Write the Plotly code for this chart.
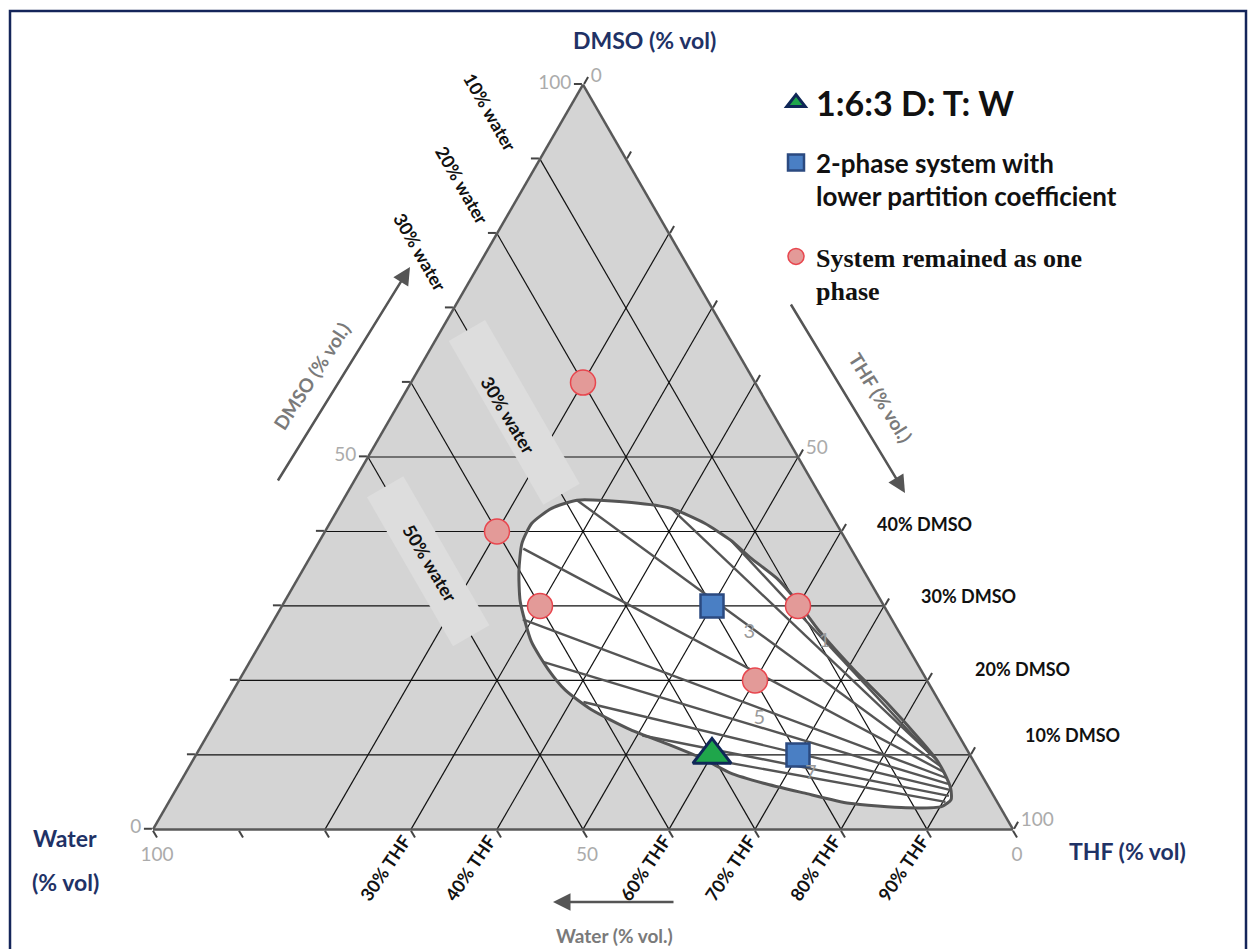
import plotly.graph_objects as go

FIG_W, FIG_H = 1249, 949

# ---------------- data (volume %, DMSO / THF / Water) ----------------
# 1:6:3 D:T:W composition
tri_dmso = [10]
tri_thf = [60]
tri_water = [30]

# 2-phase systems with lower partition coefficient
sq_dmso = [30, 10]
sq_thf = [50, 70]
sq_water = [20, 20]

# systems that remained as one phase
circ_dmso = [60, 40, 30, 30, 20]
circ_thf = [20, 20, 30, 60, 60]
circ_water = [20, 40, 40, 10, 20]

# binodal curve (closed loop)
bin_dmso = [44.2, 43.9, 43.1, 41.1, 38.8, 36.5, 33.7, 30.6, 26.6, 21.5, 17.1, 11.7, 9.3, 7.6,
            5.5, 4.0, 3.1, 2.9, 3.5, 4.9, 6.2, 7.6, 9.4, 11.3, 13.4, 16.1, 18.7, 21.5, 25.2,
            30.6, 34.7, 38.4, 41.1, 43.1, 44.2]
bin_thf = [27.2, 33.7, 38.7, 43.6, 47.8, 51.2, 55.7, 59.6, 64.2, 70.7, 76.7, 83.6, 86.5, 88.2,
           90.0, 90.8, 90.2, 86.1, 79.2, 73.2, 67.9, 63.3, 59.4, 54.5, 48.8, 42.9, 38.6, 35.2, 31.4,
           27.4, 25.2, 23.7, 23.5, 24.8, 27.2]
bin_water = [28.6, 22.4, 18.2, 15.3, 13.4, 12.3, 10.6, 9.8, 9.2, 7.8, 6.2, 4.7, 4.2, 4.2,
             4.5, 5.2, 6.7, 11.0, 17.3, 21.9, 25.9, 29.1, 31.2, 34.2, 37.8, 41.0, 42.7, 43.3, 43.4,
             42.0, 40.1, 37.9, 35.4, 32.1, 28.6]

# tie lines: water-rich end -> THF-rich end
tie_l_dmso = [38.8, 43.1, 44.2, 37.7, 28.2, 22.5, 17.1, 12.6, 9.6]
tie_l_thf = [47.8, 38.7, 27.2, 24.2, 28.9, 34.1, 41.5, 50.6, 59.0]
tie_l_water = [13.4, 18.2, 28.6, 38.1, 42.9, 43.4, 41.4, 36.8, 31.4]
tie_r_dmso = [10.2, 9.3, 8.5, 7.7, 6.9, 6.1, 5.3, 4.5, 3.7]
tie_r_thf = [85.2, 86.5, 87.3, 88.1, 88.8, 89.4, 90.0, 90.3, 90.3]
tie_r_water = [4.6, 4.2, 4.2, 4.2, 4.3, 4.5, 4.7, 5.2, 6.0]

tie_label_text = ["1", "3", "5", "7"]
tie_label_dmso = [25.2, 26.3, 14.8, 7.4]
tie_label_thf = [65.5, 56.2, 63.1, 72.8]
tie_label_water = [9.3, 17.5, 22.1, 19.8]

# drawn grid levels
grid_dmso_levels = [10, 20, 30, 40, 50]
grid_water_levels = [10, 20, 30, 40, 50]
grid_thf_levels = [20, 30, 40, 50, 60, 70, 80, 90]

# highlighted water bands
band_water = [30, 50]
band_dmso_start = [67, 46]
band_dmso_end = [45, 26]
band_text = ["30% water", "50% water"]

# axis ticks
tick_vals = [0, 10, 20, 30, 40, 50, 60, 70, 80, 90, 100]
tick_text = ["0", "", "", "", "", "50", "", "", "", "", "100"]

# text labels
dmso_line_labels = ["40% DMSO", "30% DMSO", "20% DMSO", "10% DMSO"]
water_line_labels = ["10% water", "20% water", "30% water"]
thf_line_labels = ["30% THF", "40% THF", "60% THF", "70% THF", "80% THF", "90% THF"]

legend_names = ["1:6:3 D: T: W",
                "2-phase system with<br>lower partition coefficient",
                "System remained as one<br>phase"]


def px(x):
    return x / FIG_W


def py(y):
    return 1 - y / FIG_H


fig = go.Figure()

# white interior of the binodal
fig.add_trace(go.Scatterternary(
    a=bin_dmso, b=bin_water, c=bin_thf, mode="lines", fill="toself",
    fillcolor="white", line=dict(width=0, color="white", shape="spline", smoothing=0.6),
    showlegend=False, hoverinfo="skip"))

# grid lines
ga, gb, gc = [], [], []
for d in grid_dmso_levels:
    ga += [d, d, None]
    gb += [100 - d, 0, None]
    gc += [0, 100 - d, None]
for w in grid_water_levels:
    ga += [100 - w, 0, None]
    gb += [w, w, None]
    gc += [0, 100 - w, None]
for t in grid_thf_levels:
    ga += [100 - t, 0, None]
    gb += [0, 100 - t, None]
    gc += [t, t, None]
fig.add_trace(go.Scatterternary(
    a=ga, b=gb, c=gc, mode="lines", line=dict(color="#111111", width=1.2),
    showlegend=False, hoverinfo="skip"))

# highlight bands
for w, d0, d1 in zip(band_water, band_dmso_start, band_dmso_end):
    fig.add_trace(go.Scatterternary(
        a=[d0, d1], b=[w, w], c=[100 - w - d0, 100 - w - d1], mode="lines",
        line=dict(color="#dddddd", width=42),
        showlegend=False, hoverinfo="skip"))

# binodal outline
fig.add_trace(go.Scatterternary(
    a=bin_dmso, b=bin_water, c=bin_thf, mode="lines",
    line=dict(color="#555555", width=3, shape="spline", smoothing=0.6),
    showlegend=False, hoverinfo="skip"))

# tie lines
ta, tb, tc = [], [], []
for i in range(len(tie_l_dmso)):
    ta += [tie_l_dmso[i], tie_r_dmso[i], None]
    tb += [tie_l_water[i], tie_r_water[i], None]
    tc += [tie_l_thf[i], tie_r_thf[i], None]
fig.add_trace(go.Scatterternary(
    a=ta, b=tb, c=tc, mode="lines", line=dict(color="#555555", width=2.4),
    showlegend=False, hoverinfo="skip"))

# experimental points
fig.add_trace(go.Scatterternary(
    a=circ_dmso, b=circ_water, c=circ_thf, mode="markers", name=legend_names[2],
    marker=dict(symbol="circle", size=25, color="#e39a98",
                line=dict(color="#e8464e", width=1.5)),
    legend="legend3"))
fig.add_trace(go.Scatterternary(
    a=sq_dmso, b=sq_water, c=sq_thf, mode="markers", name=legend_names[1],
    marker=dict(symbol="square", size=23, color="#4a7fc4",
                line=dict(color="#2b4a80", width=2.5)),
    legend="legend2"))
fig.add_trace(go.Scatterternary(
    a=tri_dmso, b=tri_water, c=tri_thf, mode="markers", name=legend_names[0],
    marker=dict(symbol="triangle-up", size=33, color="#1fa64b",
                line=dict(color="#0f2757", width=3)),
    legend="legend"))

# tie-line numbers
fig.add_trace(go.Scatterternary(
    a=tie_label_dmso, b=tie_label_water, c=tie_label_thf, mode="text",
    text=tie_label_text, textfont=dict(family="Lato", size=20, color="#9a9a9a"),
    showlegend=False, hoverinfo="skip"))

axis_common = dict(
    showgrid=False, showline=True, linecolor="#595959", linewidth=2.5,
    ticks="outside", ticklen=8, tickwidth=1.5, tickcolor="#444444",
    tickmode="array", tickvals=tick_vals, ticktext=tick_text,
    tickfont=dict(family="Lato", size=19, color="#ababab"),
    title=dict(text=""))

fig.update_layout(
    width=FIG_W, height=FIG_H,
    margin=dict(l=0, r=0, t=0, b=0),
    paper_bgcolor="white",
    ternary=dict(
        sum=100,
        bgcolor="#d4d4d4",
        domain=dict(x=[px(153), px(1013)], y=[py(829.4), py(84.6)]),
        aaxis=axis_common,
        baxis=axis_common,
        caxis=axis_common,
    ),
    legend=dict(x=px(776), y=py(103), xanchor="left", yanchor="middle",
                bgcolor="rgba(0,0,0,0)",
                font=dict(family="Lato", size=34, color="#111111", weight="bold")),
    legend2=dict(x=px(776), y=py(139), xanchor="left", yanchor="top", valign="top",
                 bgcolor="rgba(0,0,0,0)",
                 font=dict(family="Lato", size=26, color="#111111", weight="bold")),
    legend3=dict(x=px(776), y=py(233), xanchor="left", yanchor="top", valign="top",
                 bgcolor="rgba(0,0,0,0)",
                 font=dict(family="Liberation Serif", size=26, color="#111111",
                           weight="bold")),
)

ann = []


def text_ann(x, y, text, font, angle=0):
    return dict(x=px(x), y=py(y), xref="paper", yref="paper", text=text, showarrow=False,
                xanchor="center", yanchor="middle", textangle=angle, font=font)


navy = "#1f3266"
title_font = dict(family="Lato", size=23, color=navy, weight="bold")
ann.append(text_ann(644, 40, "DMSO (% vol)", title_font))
ann.append(text_ann(65, 838, "Water", title_font))
ann.append(text_ann(65, 882, "(% vol)", title_font))
ann.append(text_ann(1127, 851, "THF (% vol)", title_font))

grey_font = dict(family="Lato", size=19, color="#7a7a7a", weight="bold")
ann.append(text_ann(311, 376, "DMSO (% vol.)", grey_font, -57))
ann.append(text_ann(881, 397, "THF (% vol.)", grey_font, 58))
ann.append(text_ann(614, 935, "Water (% vol.)", grey_font))

# direction arrows
for (hx, hy, tx, ty) in [(410, 267, 277, 482), (905, 493, 790, 303), (553, 902, 675, 902)]:
    ann.append(dict(x=px(hx), y=py(hy), xref="paper", yref="paper",
                    ax=tx - hx, ay=ty - hy, text="", showarrow=True,
                    arrowhead=2, arrowsize=1.4, arrowwidth=2.5, arrowcolor="#555555"))

lab_font = dict(family="Lato", size=18, color="#111111", weight="bold")
for t, (cx, cy) in zip(dmso_line_labels, [(924, 524), (968, 596), (1022, 669), (1072, 735)]):
    ann.append(text_ann(cx, cy, t, lab_font))
for t, (cx, cy) in zip(water_line_labels, [(490, 112), (462, 185), (420, 252)]):
    ann.append(text_ann(cx, cy, t, lab_font, 60))
for t, cx in zip(thf_line_labels, [385, 470, 645, 730, 815, 903]):
    ann.append(text_ann(cx, 868, t, lab_font, -56))
for t, (cx, cy) in zip(band_text, [(508, 415), (430, 563)]):
    ann.append(text_ann(cx, cy, t, lab_font, 59))

fig.update_layout(annotations=ann)

# outer frame
fig.add_shape(type="rect", xref="paper", yref="paper",
              x0=px(10), x1=px(1246), y0=py(960), y1=py(11),
              line=dict(color="#14255a", width=2.5), fillcolor="rgba(0,0,0,0)")

fig.write_html("out.html")
